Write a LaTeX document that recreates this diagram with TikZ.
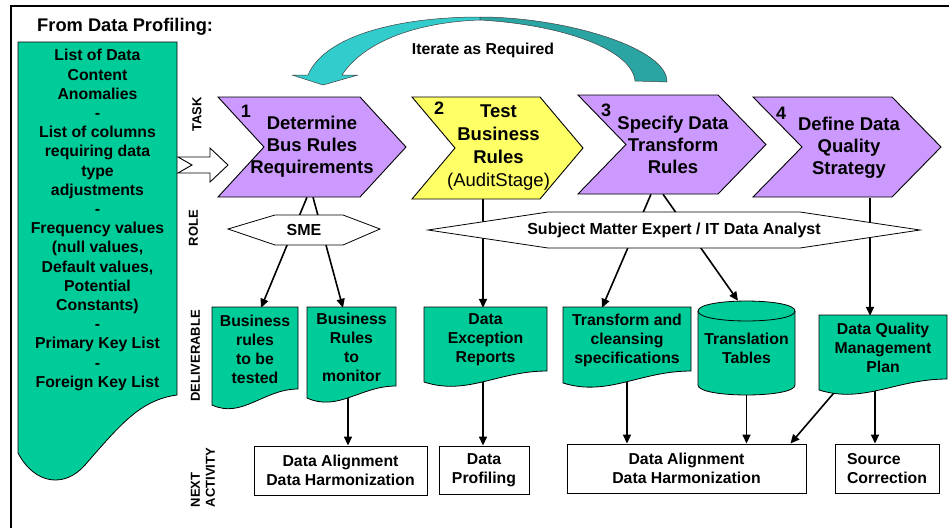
\documentclass[tikz,border=0pt]{standalone}
\usepackage{fontspec}
\setmainfont{Liberation Sans}
\usetikzlibrary{arrows.meta,calc}
\definecolor{docgreen}{HTML}{00CC99}
\definecolor{taskpurple}{HTML}{CC99FF}
\definecolor{taskyellow}{HTML}{FFFF66}
\definecolor{loopcyan}{HTML}{33CCCC}
\definecolor{loopteal}{HTML}{2AA5A3}
\pgfdeclarelayer{paper}
\pgfdeclarelayer{links}
\pgfdeclarelayer{fills}
\pgfsetlayers{paper,links,fills,main}

% chevron: x0, ytop, flat length, point depth, height, colour
\newcommand\chevron[6]{%
  \begin{pgfonlayer}{fills}
  \draw[line width=0.9pt, fill=#6, line join=miter]
    (#1,#2) -- ++(#3,0) -- ++(#4,{#5/2}) -- ++({-#4},{#5/2})
    -- ++({-#3},0) -- ++(#4,{-#5/2}) -- cycle;
  \end{pgfonlayer}}

% document shape: left, top, right, bottom-left y, bottom-right y
\newcommand\docshape[5]{%
  \pgfmathsetmacro\dw{#3-#1}%
  \pgfmathsetmacro\cxa{#1+0.35*\dw}%
  \pgfmathsetmacro\cxb{#1+0.6*\dw}%
  \pgfmathsetmacro\cya{#4+14}%
  \begin{pgfonlayer}{fills}
  \draw[docst] (#1,#2) -- (#3,#2) -- (#3,#5)
    .. controls (\cxb,#5) and (\cxa,\cya) .. (#1,#4) -- cycle;
  \end{pgfonlayer}}

\begin{document}
\begin{tikzpicture}[x=1pt,y=-1pt,
  docst/.style={draw=black, line width=0.8pt, fill=docgreen},
  hexst/.style={draw=black, line width=0.8pt, fill=white},
  tasktext/.style={font=\fontsize{18.5}{22}\selectfont\bfseries, align=center, inner sep=0pt},
  numtext/.style={font=\fontsize{18}{20}\selectfont\bfseries, inner sep=0pt},
  roletext/.style={font=\fontsize{16}{19}\selectfont\bfseries, inner sep=0pt},
  boxtext/.style={font=\fontsize{15.8}{19}\selectfont\bfseries, align=center, inner sep=0pt},
  nextbox/.style={boxtext, draw=black, line width=0.9pt, fill=white},
  lanelabel/.style={font=\fontsize{13}{15}\selectfont\bfseries, rotate=90, inner sep=0pt, align=left},
  link/.style={line width=1.6pt, -{Triangle[length=9pt,width=8pt]}}]
\useasboundingbox (0,0) rectangle (949,528);
\begin{pgfonlayer}{paper}
\fill[white] (0,0) rectangle (949,528);
\end{pgfonlayer}

% outer frame
\draw[line width=2pt] (11,528) -- (11,5.5) -- (949,5.5);

% iteration loop arrow
\draw[fill=loopcyan, draw=black!75, line width=0.5pt, line join=round]
  (292,75) -- (323,85) -- (358,75) -- (342,75)
  .. controls (365,40) and (420,22) .. (480,20) -- (480,17)
  .. controls (400,17) and (325,35) .. (308,75) -- cycle;
\draw[fill=loopteal, draw=black!75, line width=0.5pt, line join=round]
  (480,17) .. controls (565,17) and (668,48) .. (667,82) -- (635,81)
  .. controls (632,50) and (565,25) .. (480,20) -- cycle;
\node[boxtext] (iter) at (483,50) {Iterate as Required};

% title
\node[font=\fontsize{18.3}{20}\selectfont\bfseries, anchor=west, inner sep=0pt] (title) at (37,27) {From Data Profiling:};

% source list
\begin{pgfonlayer}{fills}
\draw[docst] (18,42) -- (177,42) -- (177,395)
  .. controls (140,400) and (120,425) .. (85,465)
  .. controls (65,488) and (35,485) .. (18,453) -- cycle;
\end{pgfonlayer}
\node[boxtext, font=\fontsize{15.8}{19.2}\selectfont\bfseries, minimum width=159pt] (src) at (97.5,220)
  {List of Data\\Content\\Anomalies\\-\\List of columns\\requiring data\\type\\adjustments\\-\\Frequency values\\(null values,\\Default values,\\Potential\\Constants)\\-\\Primary Key List\\-\\Foreign Key List};

% block arrow into the first task
\coordinate (ba) at (178,165);
\draw[line width=0.9pt, fill=white, line join=miter]
  (ba) ++(0,-8) -- ++(32,0) -- ++(0,-9) -- ++(18,17) -- ++(-18,17)
  -- ++(0,-9) -- ++(-32,0) -- ++(14,-8) -- cycle;

% tasks
\chevron{218}{97}{142}{46}{100}{taskpurple}
\chevron{412}{97}{128}{43}{102}{taskyellow}
\chevron{578}{95}{140}{48}{99}{taskpurple}
\chevron{753}{97}{139}{49}{100}{taskpurple}
\node[tasktext, minimum width=188pt, minimum height=100pt] (t1) at (312,147) {Determine\\Bus Rules\\Requirements};
\node[tasktext, font=\fontsize{18.5}{23}\selectfont\bfseries, minimum width=171pt, minimum height=102pt] (t2) at (498.5,148) {Test\\Business\\Rules\\{\mdseries (AuditStage)}};
\node[tasktext, minimum width=188pt, minimum height=99pt] (t3) at (673,144.5) {Specify Data\\Transform\\Rules};
\node[tasktext, minimum width=188pt, minimum height=100pt] (t4) at (849,148) {Define Data\\Quality\\Strategy};
\node[numtext] (k1) at (246,111) {1};
\node[numtext] (k2) at (439,108) {2};
\node[numtext] (k3) at (606,110) {3};
\node[numtext] (k4) at (781,113) {4};

% roles
\begin{pgfonlayer}{fills}
\draw[hexst] (228,229) -- (275,215) -- (343,215) -- (380,229) -- (343,245) -- (275,245) -- cycle;
\draw[hexst] (428,230) -- (548,212) -- (800,212) -- (920,230) -- (800,248) -- (548,248) -- cycle;
\end{pgfonlayer}
\node[roletext] (r1) at (304,229.5) {SME};
\node[roletext] (r2) at (674,230) {Subject Matter Expert / IT Data Analyst};

% deliverables
\docshape{212}{307}{298}{405}{389}
\docshape{307}{307}{396}{398}{386}
\docshape{424}{307}{547}{382}{371}
\docshape{563}{307}{691}{383}{371}
\docshape{819}{315}{947}{390}{379}
\begin{pgfonlayer}{fills}
\draw[docst] (698,311) -- (698,385) .. controls (698,398.3) and (795,398.3) .. (795,385)
  -- (795,311) .. controls (795,297.7) and (698,297.7) .. (698,311) -- cycle;
\draw[line width=0.8pt] (698,311) .. controls (698,324.3) and (795,324.3) .. (795,311);
\end{pgfonlayer}
\node[boxtext, minimum width=86pt, minimum height=82pt] (d1) at (255,349) {Business\\rules\\to be\\tested};
\node[boxtext, minimum width=89pt, minimum height=79pt] (d2) at (351.5,347.5) {Business\\Rules\\to\\monitor};
\node[boxtext, minimum width=123pt, minimum height=64pt] (d3) at (485.5,340) {Data\\Exception\\Reports};
\node[boxtext, minimum width=128pt, minimum height=64pt] (d4) at (627,340) {Transform and\\cleansing\\specifications};
\node[boxtext, minimum width=97pt, minimum height=94pt] (d5) at (746.5,348) {Translation\\Tables};
\node[boxtext, minimum width=128pt, minimum height=64pt] (d6) at (883,348) {Data Quality\\Management\\Plan};

% next activities
\node[nextbox, minimum width=173pt, minimum height=49pt] (n1) at (340.5,470.5) {Data Alignment\\Data Harmonization};
\node[nextbox, minimum width=90pt, minimum height=48pt] (n2) at (484,470) {Data\\Profiling};
\node[nextbox, minimum width=239pt, minimum height=49pt] (n3) at (686.5,468.5) {Data Alignment\\Data Harmonization};
\node[nextbox, align=left, minimum width=104pt, minimum height=49pt] (n4) at (887,468.5) {Source\\Correction};

% connectors
\begin{pgfonlayer}{links}
\draw[link] ($(t1.south)+(-5,0)$) -- ($(d1.north)+(6,0)$);
\draw[link] ($(t1.south)+(1,0)$) -- ($(d2.north)+(-8.5,0)$);
\draw[link] ($(t2.south)+(-15.5,0)$) -- ($(d3.north)+(-2.5,0)$);
\draw[link] ($(t3.south)+(-22,0)$) -- ($(d4.north)+(-25,0)$);
\draw[link] ($(t3.south)+(-10,0)$) -- ($(d5.north)+(-8.5,0)$);
\draw[link] ($(t4.south)+(21,0)$) -- ($(d6.north)+(-13,0)$);
\coordinate (a1) at ($(d2.south)+(-3.5,0)$);
\draw[link] (a1) -- (a1 |- n1.north);
\coordinate (a2) at ($(d3.south)+(-2.5,0)$);
\draw[link] (a2) -- (a2 |- n2.north);
\draw[link] (d4.south) -- (d4.south |- n3.north);
\draw[link] (d5.south) -- (d5.south |- n3.north);
\draw[link] ($(d6.south west)+(26,0)$) -- ($(n3.north east)+(-16,0)$);
\coordinate (a3) at ($(d6.south)+(-8,0)$);
\draw[link] (a3) -- (a3 |- n4.north);
\end{pgfonlayer}

% lane labels
\node[lanelabel] (lt) at (197,114.5) {TASK};
\node[lanelabel] (lr) at (193.5,228) {ROLE};
\node[lanelabel] (ld) at (195.5,356) {DELIVERABLE};
\node[lanelabel] (ln) at (203,477.5) {NEXT\\ACTIVITY};
\end{tikzpicture}
\end{document}
